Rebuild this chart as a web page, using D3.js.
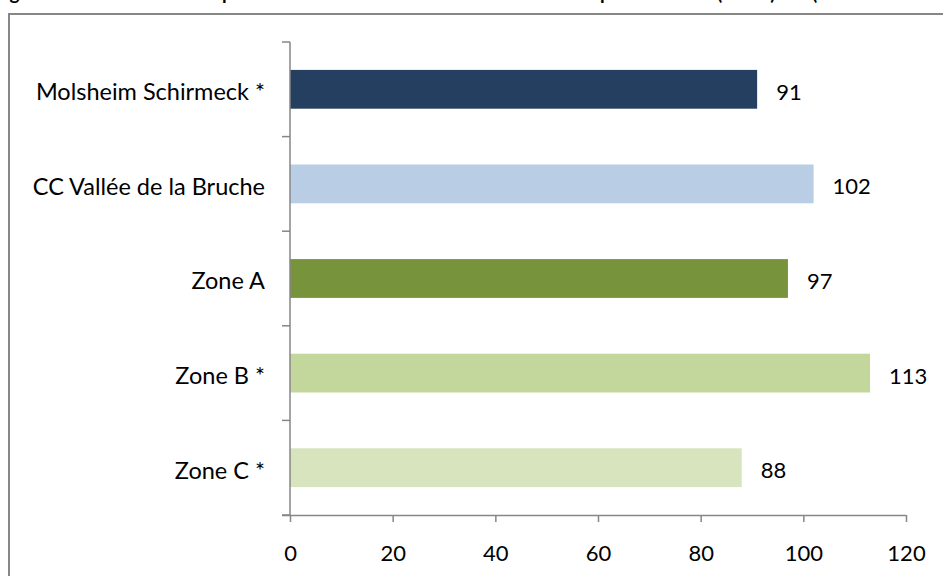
<!DOCTYPE html>
<html>
<head>
<meta charset="utf-8">
<script src="https://cdn.jsdelivr.net/npm/d3@7"></script>
<style>
  body { margin: 0; background: #fff; overflow: hidden; }
  svg { display: block; font-family: Lato, "Open Sans", sans-serif; }
</style>
</head>
<body>
<div id="chart"></div>
<script>
// Data
var categories = ["Molsheim Schirmeck *", "CC Vallée de la Bruche", "Zone A", "Zone B *", "Zone C *"];
var values = [91, 102, 97, 113, 88];
var colors = ["#243f60", "#b9cde5", "#77933c", "#c3d69b", "#d7e4bd"];
var xTicks = [0, 20, 40, 60, 80, 100, 120];
// title pieces: only the bottoms of the letters show above the frame
var titleParts = ["Figure 6 : Indice com", "paratif de mortalité toutes causes", "prématurée", "(ICMP)", "(ORS Alsace 2000 à 2008)"];
var titleX = [-6, 222, 600, 717, 812];

var width = 943, height = 576;
var margin = {top: 42, right: 37, bottom: 61, left: 290};

var svg = d3.select("#chart")
  .append("svg")
    .attr("width", width)
    .attr("height", height);

// title, cut off at the top of the picture
svg.append("text")
  .attr("y", 0)
  .style("font-size", "19px")
  .style("font-weight", "bold")
  .selectAll("tspan")
  .data(titleParts)
  .enter()
  .append("tspan")
    .attr("x", (d, i) => titleX[i])
    .text(d => d);

// chart frame (runs off the page)
svg.append("rect")
  .attr("x", 9)
  .attr("y", 14)
  .attr("width", 960)
  .attr("height", 600)
  .attr("fill", "none")
  .attr("stroke", "#878787")
  .attr("stroke-width", 2);

// Scales
var x = d3.scaleLinear()
  .domain([0, 120])
  .range([margin.left, width - margin.right]);

var y = d3.scaleBand()
  .domain(categories)
  .range([margin.top, height - margin.bottom]);

var barH = y.bandwidth() * 0.41;

// Bars
svg.selectAll("rect.bar")
  .data(values)
  .enter()
  .append("rect")
    .attr("class", "bar")
    .attr("x", x(0))
    .attr("y", (d, i) => y(categories[i]) + (y.bandwidth() - barH) / 2)
    .attr("width", d => x(d) - x(0))
    .attr("height", barH)
    .attr("fill", (d, i) => colors[i]);

// Value labels
svg.selectAll("text.value")
  .data(values)
  .enter()
  .append("text")
    .attr("class", "value")
    .attr("x", d => x(d) + 19)
    .attr("y", (d, i) => y(categories[i]) + y.bandwidth() / 2 + 2.5)
    .attr("dy", "0.36em")
    .style("font-size", "22px")
    .text(d => d);

// X axis
var xAxis = svg.append("g")
  .attr("transform", `translate(0,${height - margin.bottom})`)
  .call(d3.axisBottom(x).tickValues(xTicks).tickSize(7).tickPadding(23).tickSizeOuter(0));
xAxis.select(".domain")
  .attr("d", `M${x(0) - 8},0.5H${x(120)}`);

// Y axis
var yTickPos = categories.map(c => y(c)).concat([height - margin.bottom]);
var yAxis = svg.append("g");
yAxis.append("line")
  .attr("x1", x(0)).attr("x2", x(0))
  .attr("y1", margin.top).attr("y2", height - margin.bottom);
yAxis.selectAll("line.tick")
  .data(yTickPos)
  .enter()
  .append("line")
    .attr("class", "tick")
    .attr("x1", x(0) - 8).attr("x2", x(0))
    .attr("y1", d => d).attr("y2", d => d);
yAxis.selectAll("line").attr("stroke", "#868686").attr("stroke-width", 1.5);

// category labels
svg.selectAll("text.cat")
  .data(categories)
  .enter()
  .append("text")
    .attr("class", "cat")
    .attr("x", x(0) - 25)
    .attr("y", d => y(d) + y.bandwidth() / 2 + 2.5)
    .attr("dy", "0.36em")
    .attr("text-anchor", "end")
    .style("font-size", "23.5px")
    .text(d => d);

xAxis.selectAll("line, path").attr("stroke", "#868686").attr("stroke-width", 1.5);
xAxis.selectAll("text")
  .style("font-size", "22px")
  .style("font-family", "Lato, sans-serif")
  .attr("fill", "#000");
</script>
</body>
</html>
